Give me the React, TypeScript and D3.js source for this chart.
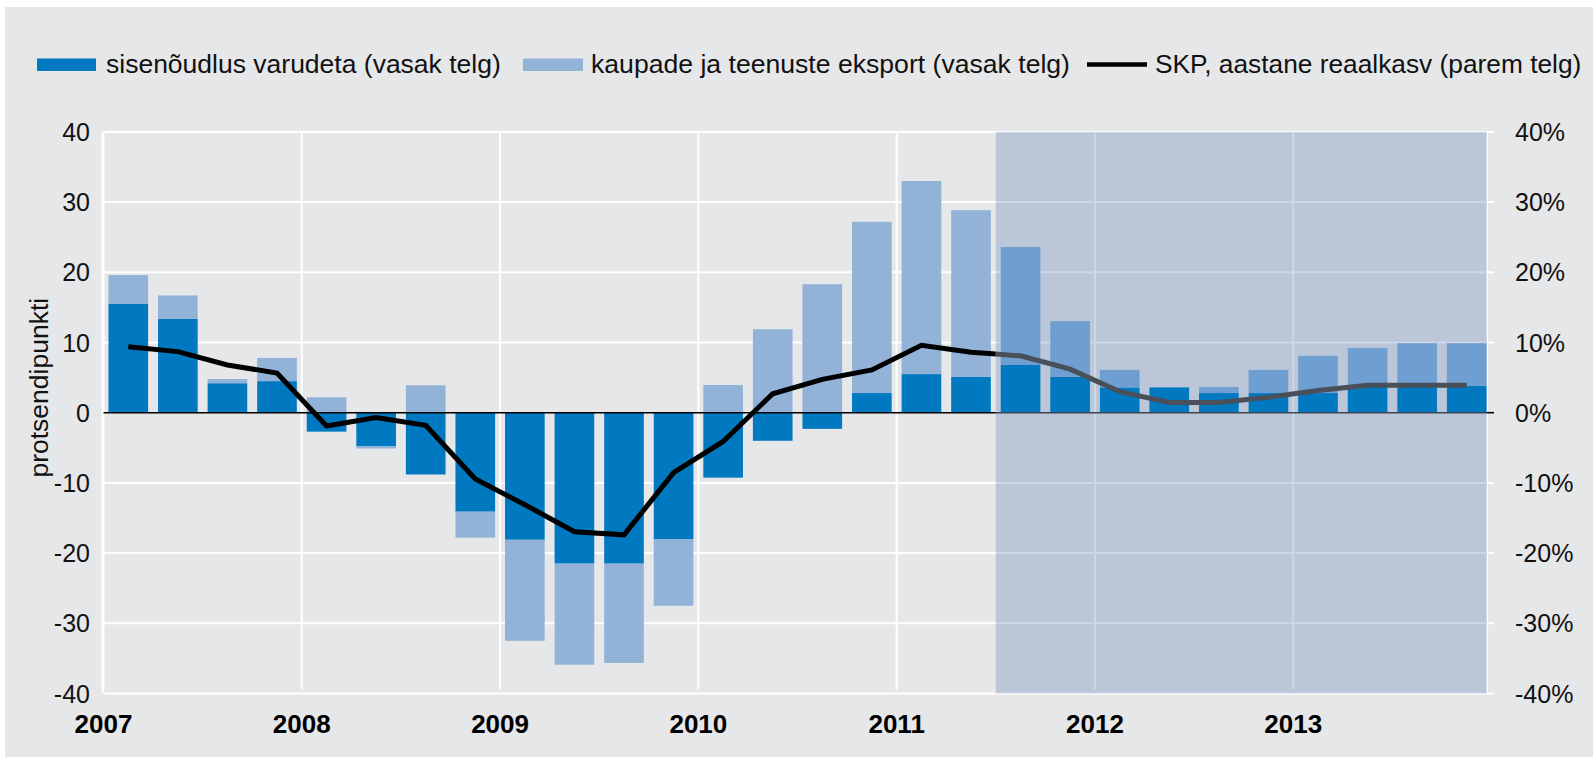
import * as d3 from "d3";

// quarters 2007Q1 .. 2013Q4
const quarters = [
  "2007Q1", "2007Q2", "2007Q3", "2007Q4",
  "2008Q1", "2008Q2", "2008Q3", "2008Q4",
  "2009Q1", "2009Q2", "2009Q3", "2009Q4",
  "2010Q1", "2010Q2", "2010Q3", "2010Q4",
  "2011Q1", "2011Q2", "2011Q3", "2011Q4",
  "2012Q1", "2012Q2", "2012Q3", "2012Q4",
  "2013Q1", "2013Q2", "2013Q3", "2013Q4",
];
const years = ["2007", "2008", "2009", "2010", "2011", "2012", "2013"];

// sisenõudlus varudeta (vasak telg)
const domestic = [
  15.5, 13.4, 4.2, 4.5,
  -2.7, -4.8, -8.8, -14.1,
  -18.1, -21.5, -21.5, -18.0,
  -9.25, -4.0, -2.3, 2.8,
  5.5, 5.1, 6.8, 5.1,
  3.6, 3.6, 2.8, 2.8,
  2.8, 3.7, 3.7, 3.8,
];
// kaupade ja teenuste eksport (vasak telg)
const exports = [
  4.1, 3.3, 0.6, 3.3,
  2.2, -0.3, 3.9, -3.7,
  -14.4, -14.4, -14.15, -9.5,
  3.95, 11.9, 18.3, 24.4,
  27.5, 23.75, 16.8, 7.95,
  2.5, 0, 0.85, 3.3,
  5.3, 5.5, 6.2, 6.1,
];
// SKP, aastane reaalkasv (parem telg), %
const gdp = [
  9.4, 8.7, 6.8, 5.65,
  -1.9, -0.7, -1.8, -9.45,
  -13.1, -16.95, -17.4, -8.55,
  -4.1, 2.7, 4.75, 6.1,
  9.6, 8.6, 8.1, 6.2,
  3.0, 1.45, 1.45, 2.2,
  3.15, 3.9, 3.9, 3.9,
];
const leftTicks = [40, 30, 20, 10, 0, -10, -20, -30, -40];
const rightTicks = [40, 30, 20, 10, 0, -10, -20, -30, -40];
const forecastStart = "2011Q3";

const W = 1593;
const H = 757;
const FONT = "'Liberation Sans', Arial, sans-serif";
const DARK = "#0079C1";
const LIGHT = "#93B2D8";
const LIGHT_FC = "#6F9FD0";

export default function App() {
  const left = 103.5;
  const right = 1487;
  const top = 131.9;
  const bottom = 693.5;

  const x = d3.scaleBand<string>().domain(quarters).range([left, 1491.5]).paddingInner(0.2).paddingOuter(0.1);
  const y = d3.scaleLinear().domain([-40, 40]).range([bottom, top]);
  const yR = d3.scaleLinear().domain([-40, 40]).range([bottom, top]);

  const rows = quarters.map((q, i) => ({ q, domestic: domestic[i], exports: exports[i] }));
  const series = d3
    .stack<{ q: string; domestic: number; exports: number }>()
    .keys(["domestic", "exports"])
    .offset(d3.stackOffsetDiverging)(rows);

  const fcIndex = quarters.indexOf(forecastStart);
  const shadeX = x(forecastStart)! - (x.step() - x.bandwidth()) / 2;

  const line = d3
    .line<number>()
    .x((_, i) => x(quarters[i])! + x.bandwidth() / 2)
    .y((d) => yR(d));

  const yearX = (yr: string) => x(yr + "Q1")! - (x.step() - x.bandwidth()) / 2;

  return (
    <svg width={W} height={H} style={{ position: "absolute", left: 0, top: 0, background: "#fff" }} fontFamily={FONT}>
      <defs>
        <clipPath id="hist">
          <rect x={0} y={0} width={shadeX} height={H} />
        </clipPath>
        <clipPath id="fc">
          <rect x={shadeX} y={0} width={W - shadeX} height={H} />
        </clipPath>
      </defs>
      <rect x={5} y={7} width={W - 5} height={H - 7} fill="#E6E7E9" />

      {/* legend */}
      <rect x={37} y={58.5} width={59} height={12.5} fill={DARK} />
      <text x={106} y={72.5} fontSize={26.5} fill="#111">sisenõudlus varudeta (vasak telg)</text>
      <rect x={523} y={58.5} width={60} height={12.5} fill={LIGHT} />
      <text x={591} y={72.5} fontSize={26.6} fill="#111">kaupade ja teenuste eksport (vasak telg)</text>
      <line x1={1087} x2={1147} y1={64.5} y2={64.5} stroke="#000" strokeWidth={4.5} />
      <text x={1155} y={72.5} fontSize={26.3} fill="#111">SKP, aastane reaalkasv (parem telg)</text>

      {/* grid */}
      {leftTicks.filter((t) => t !== 0).map((t) => (
        <line key={"h" + t} x1={left} x2={right + 7} y1={y(t)} y2={y(t)} stroke="#fff" strokeWidth={2} />
      ))}
      {years.map((yr) => (
        <line key={"v" + yr} x1={yearX(yr)} x2={yearX(yr)} y1={top} y2={bottom - 4} stroke="#fff" strokeWidth={2} />
      ))}
      <line x1={left - 1} x2={left - 1} y1={top} y2={bottom} stroke="#fff" strokeWidth={2} />
      <line x1={right} x2={right} y1={top} y2={bottom} stroke="#fff" strokeWidth={2} />

      {/* forecast shading */}
      <rect x={shadeX} y={top} width={right - shadeX} height={bottom - top} fill="#5A79B4" fillOpacity={0.3} />

      {/* bars */}
      {series.map((s) =>
        s.map((d, i) => (
          <rect
            key={s.key + i}
            x={x(quarters[i])}
            width={x.bandwidth()}
            y={y(Math.max(d[0], d[1]))}
            height={Math.abs(y(d[0]) - y(d[1]))}
            fill={s.key === "domestic" ? DARK : i >= fcIndex ? LIGHT_FC : LIGHT}
          />
        ))
      )}

      {/* zero line */}
      <line x1={left} x2={shadeX} y1={y(0)} y2={y(0)} stroke="#000" strokeWidth={1.6} />
      <line x1={shadeX} x2={right} y1={y(0)} y2={y(0)} stroke="#3F4650" strokeWidth={1.6} />
      <line x1={right} x2={right + 7} y1={y(0)} y2={y(0)} stroke="#000" strokeWidth={1.6} />

      {/* GDP line */}
      <path d={line(gdp)!} fill="none" stroke="#000" strokeWidth={5} clipPath="url(#hist)" />
      <path d={line(gdp)!} fill="none" stroke="#4A5059" strokeWidth={5} clipPath="url(#fc)" />

      {/* axes labels */}
      {leftTicks.map((t) => (
        <text key={"l" + t} x={90} y={y(t)} dy="0.36em" textAnchor="end" fontSize={25} fill="#111">
          {t}
        </text>
      ))}
      {rightTicks.map((t) => (
        <text key={"r" + t} x={1515} y={yR(t)} dy="0.36em" textAnchor="start" fontSize={25} fill="#111">
          {t + "%"}
        </text>
      ))}
      {years.map((yr) => (
        <text key={"y" + yr} x={yearX(yr)} y={733} textAnchor="middle" fontSize={26} fontWeight="bold" fill="#000">
          {yr}
        </text>
      ))}
      <text transform={`translate(48, ${(top + bottom) / 2 - 25}) rotate(-90)`} textAnchor="middle" fontSize={26.5} fill="#111">
        protsendipunkti
      </text>
    </svg>
  );
}
